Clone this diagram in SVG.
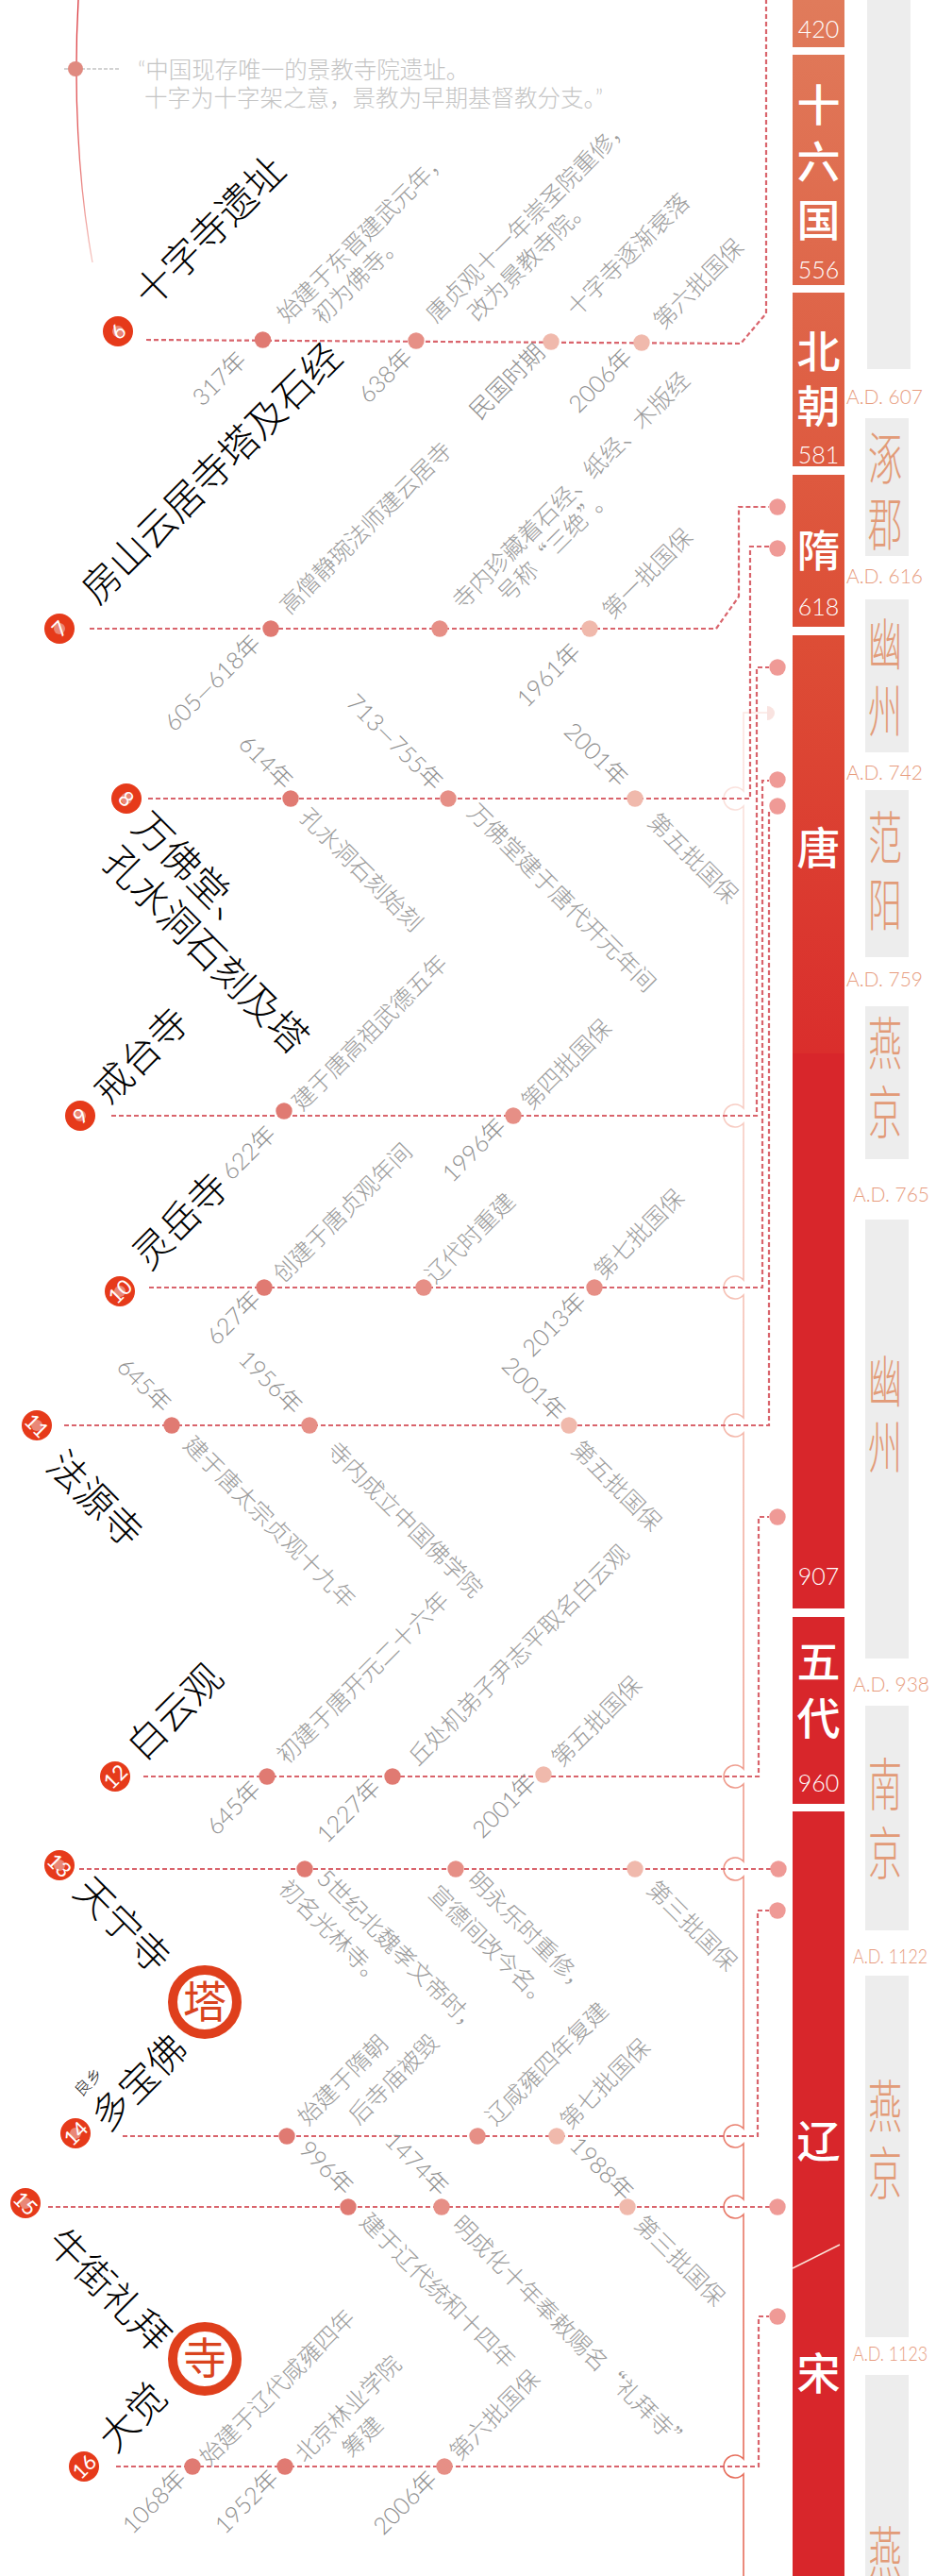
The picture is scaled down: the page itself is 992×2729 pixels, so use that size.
<svg xmlns="http://www.w3.org/2000/svg" width="992" height="2729" viewBox="0 0 992 2729">
<style>
text{font-family:"Noto Sans CJK SC","Noto Sans",sans-serif}
.t{font-size:41px;font-weight:300;fill:#000}
.d{font-size:24.500px;font-weight:300;fill:#9c9c9c}
.y{font-size:25px;font-weight:300;fill:#8e8e8e;text-anchor:end;font-family:"Lato","Noto Sans CJK SC",sans-serif}
.q{font-size:24.500px;font-weight:300;fill:#c4c4c4;font-family:"Lato","Noto Sans CJK SC",sans-serif}
.b{font-size:46px;fill:#fff;text-anchor:middle;font-weight:500}
.n{font-size:25px;fill:#fff;text-anchor:middle;font-weight:300;font-family:"Lato",sans-serif}
.ad{font-size:22px;fill:#e79c7e;font-weight:300;font-family:"Lato",sans-serif}
.c{font-size:60px;fill:#e29b78;font-weight:300;text-anchor:middle}
.g{fill:#ededed}
.nb{fill:#e63a1a}
.np{fill:#eaa8a0;opacity:.7}
.nt{font-size:22px;fill:#fff;text-anchor:middle;font-family:"Lato",sans-serif}
.l{fill:none;stroke:#d9646c;stroke-width:2.200;stroke-dasharray:5 3}
.a{fill:#e07a72}.e{fill:#e68f86}.f{fill:#f0b9ac}.r{fill:#ef9a96}
.s{fill:#fff;stroke:#df3f1c;stroke-width:10}
.st{font-size:46px;fill:#d9431e;text-anchor:middle}
</style>
<defs>
<linearGradient id="bar" gradientUnits="userSpaceOnUse" x1="0" y1="0" x2="0" y2="1116">
<stop offset="0" stop-color="#e07b5b"/><stop offset=".6" stop-color="#dd4e36"/><stop offset="1" stop-color="#da2e2c"/>
</linearGradient>
<linearGradient id="lt" gradientUnits="userSpaceOnUse" x1="0" y1="755" x2="0" y2="2500">
<stop offset="0" stop-color="#fbe6e2"/><stop offset=".4" stop-color="#f5bdb0"/><stop offset="1" stop-color="#e66e5c"/>
</linearGradient>
<linearGradient id="cv" gradientUnits="userSpaceOnUse" x1="0" y1="0" x2="0" y2="280">
<stop offset="0" stop-color="#d9343a"/><stop offset=".5" stop-color="#e25c5c"/><stop offset="1" stop-color="#f6c9c4"/>
</linearGradient>
</defs>

<g id="timeline">
<rect x="840" y="0" width="55" height="50" fill="url(#bar)"/>
<rect x="840" y="58" width="55" height="244" fill="url(#bar)"/>
<rect x="840" y="310" width="55" height="184" fill="url(#bar)"/>
<rect x="840" y="503" width="55" height="161" fill="url(#bar)"/>
<rect x="840" y="673" width="55" height="443" fill="url(#bar)"/>
<rect x="840" y="1116" width="55" height="588" fill="#d8262b"/>
<rect x="840" y="1713" width="55" height="198" fill="#d8262b"/>
<rect x="840" y="1919" width="55" height="810" fill="#d8262b"/>
<line x1="840" y1="2403" x2="890" y2="2378" stroke="#fbe3d8" stroke-width="1.500"/>
<text class="n" x="867.500" y="40">420</text>
<text class="b" x="867.500" y="128">十</text>
<text class="b" x="867.500" y="188">六</text>
<text class="b" x="867.500" y="250">国</text>
<text class="n" x="867.500" y="295">556</text>
<text class="b" x="867.500" y="389">北</text>
<text class="b" x="867.500" y="447">朝</text>
<text class="n" x="867.500" y="491">581</text>
<text class="b" x="867.500" y="600">隋</text>
<text class="n" x="867.500" y="652">618</text>
<text class="b" x="867.500" y="915">唐</text>
<text class="n" x="867.500" y="1679">907</text>
<text class="b" x="867.500" y="1777">五</text>
<text class="b" x="867.500" y="1837">代</text>
<text class="n" x="867.500" y="1898">960</text>
<text class="b" x="867.500" y="2285">辽</text>
<text class="b" x="867.500" y="2531">宋</text>
</g>

<g id="places">
<rect class="g" x="919" y="0" width="46" height="391"/>
<rect class="g" x="917" y="443" width="46" height="146"/>
<rect class="g" x="917" y="635" width="46" height="162"/>
<rect class="g" x="917" y="837" width="46" height="177"/>
<rect class="g" x="917" y="1066" width="46" height="162"/>
<rect class="g" x="917" y="1292" width="46" height="465"/>
<rect class="g" x="917" y="1807" width="46" height="238"/>
<rect class="g" x="917" y="2093" width="46" height="383"/>
<rect class="g" x="917" y="2516" width="46" height="213"/>
<text class="ad" x="897" y="428" textLength="81" lengthAdjust="spacingAndGlyphs">A.D. 607</text>
<text class="ad" x="897" y="618" textLength="81" lengthAdjust="spacingAndGlyphs">A.D. 616</text>
<text class="ad" x="897" y="826" textLength="81" lengthAdjust="spacingAndGlyphs">A.D. 742</text>
<text class="ad" x="897" y="1045" textLength="81" lengthAdjust="spacingAndGlyphs">A.D. 759</text>
<text class="ad" x="904" y="1273" textLength="81" lengthAdjust="spacingAndGlyphs">A.D. 765</text>
<text class="ad" x="904" y="1792" textLength="81" lengthAdjust="spacingAndGlyphs">A.D. 938</text>
<text class="ad" x="904" y="2080" textLength="79" lengthAdjust="spacingAndGlyphs">A.D. 1122</text>
<text class="ad" x="904" y="2501" textLength="79" lengthAdjust="spacingAndGlyphs">A.D. 1123</text>
<g transform="translate(938 0) scale(.6 1)">
<text class="c" x="0" y="508">涿</text>
<text class="c" x="0" y="578">郡</text>
<text class="c" x="0" y="705">幽</text>
<text class="c" x="0" y="776">州</text>
<text class="c" x="0" y="910">范</text>
<text class="c" x="0" y="981">阳</text>
<text class="c" x="0" y="1128">燕</text>
<text class="c" x="0" y="1201">京</text>
<text class="c" x="0" y="1486">幽</text>
<text class="c" x="0" y="1556">州</text>
<text class="c" x="0" y="1913">南</text>
<text class="c" x="0" y="1986">京</text>
<text class="c" x="0" y="2254">燕</text>
<text class="c" x="0" y="2325">京</text>
<text class="c" x="0" y="2727">燕</text>
</g>
</g>

<g id="connectors">
<path d="M813,755H788V838A12,12 0 1 0 788,854V1174A12,12 0 1 0 788,1190V1356A12,12 0 1 0 788,1372V1502A12,12 0 1 0 788,1518V1874A12,12 0 1 0 788,1890V1972A12,12 0 1 0 788,1988V2255A12,12 0 1 0 788,2271V2330A12,12 0 1 0 788,2346V2605A12,12 0 1 0 788,2621V2729" fill="none" stroke="url(#lt)" stroke-width="1.600"/>
<path d="M813,748a8,7.500 0 0 1 8,7.500a8,7.500 0 0 1 -8,7.500z" fill="#f9e3e0"/>
<path class="l" d="M155,360L785,364L812,332V0"/>
<path class="l" d="M95,666H759L783,632V537H815"/>
<path class="l" d="M157,846H795V579H815"/>
<path class="l" d="M118,1182H802V707H815"/>
<path class="l" d="M158,1364H808V827H815"/>
<path class="l" d="M68,1510H815V860"/>
<path class="l" d="M152,1882H804V1607H815"/>
<path class="l" d="M84,1980H825"/>
<path class="l" d="M130,2263H803V2024H815"/>
<path class="l" d="M51,2338H824"/>
<path class="l" d="M123,2613H804V2454H815"/>
<path d="M83,0C78,90 82,190 98,278" fill="none" stroke="url(#cv)" stroke-width="1.300"/>
<path d="M68,73H127" fill="none" stroke="#c4c4c4" stroke-width="1.500" stroke-dasharray="4 2"/>
<circle cx="80" cy="73" r="8" fill="#e08a80"/>
</g>

<g id="note"><text class="q" x="146" y="83">“中国现存唯一的景教寺院遗址。</text><text class="q" x="153" y="113">十字为十字架之意，景教为早期基督教分支。”</text></g>

<g id="node-6">
<circle class="nb" cx="125" cy="351" r="16"/><circle class="np" cx="125" cy="351" r="6"/><text class="nt" transform="translate(125 351) rotate(-45)" y="8">6</text>
<text class="t" transform="translate(160 328) rotate(-45)">十字寺遗址</text>
<circle class="a" cx="278.500" cy="360" r="8.700"/><circle class="e" cx="441" cy="361" r="8.700"/><circle class="f" cx="584" cy="362" r="8.700"/><circle class="f" cx="680" cy="363" r="8.700"/>
<text class="d" transform="translate(304 343) rotate(-45)">始建于东晋建武元年，</text>
<text class="d" transform="translate(342 345) rotate(-45)">初为佛寺。</text>
<text class="d" transform="translate(462 343) rotate(-45)">唐贞观十一年崇圣院重修，</text>
<text class="d" transform="translate(506 342) rotate(-45)">改为景教寺院。</text>
<text class="d" transform="translate(611 337) rotate(-45)">十字寺逐渐衰落</text>
<text class="d" transform="translate(703 350) rotate(-45)">第六批国保</text>
<text class="y" transform="translate(263 383) rotate(-45)">317年</text>
<text class="y" transform="translate(439 380) rotate(-45)">638年</text>
<text class="y" transform="translate(579 375) rotate(-45)">民国时期</text>
<text class="y" transform="translate(672 380) rotate(-45)">2006年</text>
</g>

<g id="node-7">
<circle class="nb" cx="63" cy="666" r="16"/><circle class="np" cx="63" cy="666" r="6"/><text class="nt" transform="translate(63 666) rotate(-45)" y="8">7</text>
<text class="t" transform="translate(104 642) rotate(-45)">房山云居寺塔及石经</text>
<circle class="a" cx="287" cy="666" r="8.700"/><circle class="e" cx="466" cy="666" r="8.700"/><circle class="f" cx="625" cy="666" r="8.700"/>
<text class="d" transform="translate(307 652) rotate(-45)">高僧静琬法师建云居寺</text>
<text class="d" transform="translate(490 647) rotate(-45)">寺内珍藏着石经、纸经、木版经</text>
<text class="d" transform="translate(538 640) rotate(-45)">号称“三绝”。</text>
<text class="d" transform="translate(649 657) rotate(-45)">第一批国保</text>
<text class="y" transform="translate(278 683) rotate(-45)">605—618年</text>
<text class="y" transform="translate(617 692) rotate(-45)">1961年</text>
</g>

<g id="node-8">
<circle class="nb" cx="134" cy="846" r="16"/><circle class="np" cx="134" cy="846" r="6"/><text class="nt" transform="translate(134 846) rotate(45)" y="8">8</text>
<text class="t" transform="translate(138 878) rotate(45)">万佛堂、</text>
<text class="t" transform="translate(106 915) rotate(45)">孔水洞石刻及塔</text>
<circle class="a" cx="308" cy="846" r="8.700"/><circle class="e" cx="475" cy="846" r="8.700"/><circle class="f" cx="673" cy="846" r="8.700"/>
<text class="d" transform="translate(316 867) rotate(45)">孔水洞石刻始刻</text>
<text class="d" transform="translate(494 862) rotate(45)">万佛堂建于唐代开元年间</text>
<text class="d" transform="translate(685 872) rotate(45)">第五批国保</text>
<text class="y" transform="translate(300 838) rotate(45)">614年</text>
<text class="y" transform="translate(459 839) rotate(45)">713—755年</text>
<text class="y" transform="translate(655 835) rotate(45)">2001年</text>
</g>

<g id="node-9">
<circle class="nb" cx="85" cy="1182" r="16"/><circle class="np" cx="85" cy="1182" r="6"/><text class="nt" transform="translate(85 1182) rotate(-45)" y="8">9</text>
<text class="t" transform="translate(116 1172) rotate(-45)">戒台寺</text>
<circle class="a" cx="301" cy="1177" r="8.700"/><circle class="e" cx="544" cy="1182" r="8.700"/>
<text class="d" transform="translate(320 1178) rotate(-45)">建于唐高祖武德五年</text>
<text class="d" transform="translate(563 1177) rotate(-45)">第四批国保</text>
<text class="y" transform="translate(294 1203) rotate(-45)">622年</text>
<text class="y" transform="translate(538 1195) rotate(-45)">1996年</text>
</g>

<g id="node-10">
<circle class="nb" cx="127" cy="1368" r="16"/><circle class="np" cx="127" cy="1368" r="6"/><text class="nt" transform="translate(127 1368) rotate(-45)" y="8">10</text>
<text class="t" transform="translate(158 1347) rotate(-45)">灵岳寺</text>
<circle class="a" cx="280" cy="1364" r="8.700"/><circle class="e" cx="449" cy="1364" r="8.700"/><circle class="e" cx="630" cy="1364" r="8.700"/>
<text class="d" transform="translate(300 1360) rotate(-45)">创建于唐贞观年间</text>
<text class="d" transform="translate(461 1361) rotate(-45)">辽代时重建</text>
<text class="d" transform="translate(640 1357) rotate(-45)">第七批国保</text>
<text class="y" transform="translate(278 1378) rotate(-45)">627年</text>
<text class="y" transform="translate(623 1380) rotate(-45)">2013年</text>
</g>

<g id="node-11">
<circle class="nb" cx="39" cy="1510" r="16"/><circle class="np" cx="39" cy="1510" r="6"/><text class="nt" transform="translate(39 1510) rotate(45)" y="8">11</text>
<text class="t" transform="translate(47 1555) rotate(45)">法源寺</text>
<circle class="a" cx="182" cy="1510" r="8.700"/><circle class="e" cx="328" cy="1510" r="8.700"/><circle class="f" cx="603" cy="1510" r="8.700"/>
<text class="d" transform="translate(193 1532) rotate(45)">建于唐太宗贞观十九年</text>
<text class="d" transform="translate(345 1538) rotate(45)">寺内成立中国佛学院</text>
<text class="d" transform="translate(604 1537) rotate(45)">第五批国保</text>
<text class="y" transform="translate(171 1498) rotate(45)">645年</text>
<text class="y" transform="translate(310 1500) rotate(45)">1956年</text>
<text class="y" transform="translate(589 1507) rotate(45)">2001年</text>
</g>

<g id="node-12">
<circle class="nb" cx="122" cy="1882" r="16"/><text class="nt" transform="translate(122 1882) rotate(-45)" y="8">12</text>
<text class="t" transform="translate(152 1867) rotate(-45)">白云观</text>
<circle class="a" cx="283" cy="1882" r="8.700"/><circle class="a" cx="416" cy="1882" r="8.700"/><circle class="f" cx="576" cy="1880" r="8.700"/>
<text class="d" transform="translate(304 1870) rotate(-45)">初建于唐开元二十六年</text>
<text class="d" transform="translate(443 1872) rotate(-45)">丘处机弟子尹志平取名白云观</text>
<text class="d" transform="translate(595 1873) rotate(-45)">第五批国保</text>
<text class="y" transform="translate(278 1897) rotate(-45)">645年</text>
<text class="y" transform="translate(405 1895) rotate(-45)">1227年</text>
<text class="y" transform="translate(570 1890) rotate(-45)">2001年</text>
</g>

<g id="node-13">
<circle class="nb" cx="63" cy="1976" r="16"/><circle class="np" cx="63" cy="1976" r="6"/><text class="nt" transform="translate(63 1976) rotate(45)" y="8">13</text>
<text class="t" transform="translate(76 2006) rotate(45)">天宁寺</text>
<circle class="a" cx="323" cy="1980" r="8.700"/><circle class="e" cx="483" cy="1980" r="8.700"/><circle class="f" cx="673" cy="1980" r="8.700"/><circle class="r" cx="825" cy="1980" r="8.700"/>
<text class="d" transform="translate(335 1992) rotate(45)">5世纪北魏孝文帝时，</text>
<text class="d" transform="translate(294 2002) rotate(45)">初名光林寺。</text>
<text class="d" transform="translate(494 1993) rotate(45)">明永乐时重修，</text>
<text class="d" transform="translate(453 2008) rotate(45)">宣德间改今名。</text>
<text class="d" transform="translate(684 2003) rotate(45)">第三批国保</text>
</g>

<g id="mark-ta"><circle class="s" cx="217" cy="2121" r="34"/><text class="st" x="217" y="2137">塔</text></g>

<g id="node-14">
<circle class="nb" cx="80" cy="2260" r="16"/><circle class="np" cx="80" cy="2260" r="6"/><text class="nt" transform="translate(80 2260) rotate(-45)" y="8">14</text>
<text class="t" transform="translate(114 2260) rotate(-45)">多宝佛</text>
<text transform="translate(86 2222) rotate(-45)" style="font-size:17px;font-weight:300;fill:#222">良乡</text>
<circle class="a" cx="304" cy="2263" r="8.700"/><circle class="e" cx="506" cy="2263" r="8.700"/><circle class="f" cx="590" cy="2263" r="8.700"/>
<text class="d" transform="translate(326 2253) rotate(-45)">始建于隋朝</text>
<text class="d" transform="translate(380 2252) rotate(-45)">后寺庙被毁</text>
<text class="d" transform="translate(525 2253) rotate(-45)">辽咸雍四年复建</text>
<text class="d" transform="translate(604 2257) rotate(-45)">第七批国保</text>
</g>

<g id="node-15">
<circle class="nb" cx="27" cy="2334" r="16"/><circle class="np" cx="27" cy="2334" r="6"/><text class="nt" transform="translate(27 2334) rotate(45)" y="8">15</text>
<text class="t" transform="translate(47 2378) rotate(45)">牛街礼拜</text>
<circle class="a" cx="369" cy="2338" r="8.700"/><circle class="e" cx="468" cy="2338" r="8.700"/><circle class="f" cx="665" cy="2338" r="8.700"/><circle class="r" cx="824" cy="2338" r="8.700"/>
<text class="d" transform="translate(380 2355) rotate(45)">建于辽代统和十四年</text>
<text class="d" transform="translate(478 2358) rotate(45)">明成化十年奉敕赐名“礼拜寺”</text>
<text class="d" transform="translate(671 2358) rotate(45)">第三批国保</text>
<text class="y" transform="translate(364 2327) rotate(45)">996年</text>
<text class="y" transform="translate(465 2328) rotate(45)">1474年</text>
<text class="y" transform="translate(661 2333) rotate(45)">1988年</text>
</g>

<g id="mark-si"><circle class="s" cx="217" cy="2499" r="34"/><text class="st" x="217" y="2515">寺</text></g>

<g id="node-16">
<circle class="nb" cx="89" cy="2613" r="16"/><text class="nt" transform="translate(89 2613) rotate(-45)" y="8">16</text>
<text class="t" transform="translate(122 2600) rotate(-45)">大觉</text>
<circle class="a" cx="204" cy="2613" r="8.700"/><circle class="a" cx="302" cy="2613" r="8.700"/><circle class="e" cx="471" cy="2613" r="8.700"/>
<text class="d" transform="translate(222 2613) rotate(-45)">始建于辽代咸雍四年</text>
<text class="d" transform="translate(323 2610) rotate(-45)">北京林业学院</text>
<text class="d" transform="translate(373 2605) rotate(-45)">筹建</text>
<text class="d" transform="translate(487 2608) rotate(-45)">第六批国保</text>
<text class="y" transform="translate(199 2627) rotate(-45)">1068年</text>
<text class="y" transform="translate(297 2627) rotate(-45)">1952年</text>
<text class="y" transform="translate(465 2628) rotate(-45)">2006年</text>
</g>

<g id="ends">
<circle class="r" cx="824" cy="537" r="8.700"/><circle class="r" cx="824" cy="581" r="8.700"/><circle class="r" cx="824" cy="707" r="8.700"/><circle class="r" cx="824" cy="826" r="8.700"/><circle class="r" cx="824" cy="854" r="8.700"/><circle class="r" cx="824" cy="1607" r="8.700"/><circle class="r" cx="824" cy="2024" r="8.700"/><circle class="r" cx="824" cy="2454" r="8.700"/>
</g>
</svg>
